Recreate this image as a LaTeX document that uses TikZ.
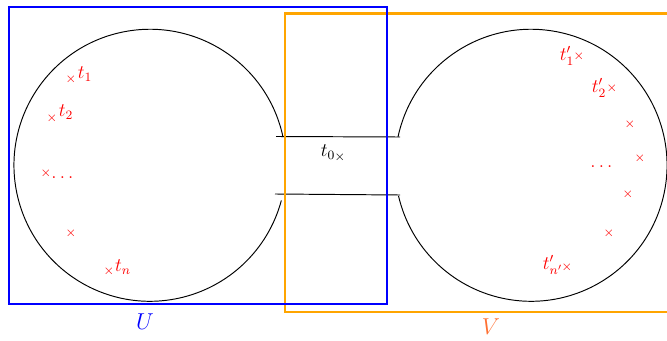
\documentclass[tikz,border=0pt]{standalone}
\usepackage{amsmath,amssymb}
\usepackage{xcolor}
\usepackage{tikz}
\usetikzlibrary{positioning}
\definecolor{boxV}{RGB}{255,165,0}
\definecolor{labV}{RGB}{255,112,50}

\begin{document}
\begin{tikzpicture}[x=0.022cm,y=0.022cm,
  pt/.style={font=\footnotesize,inner sep=0pt},
  lab/.style={font=\large,inner sep=0pt}]
  \clip (0,0) rectangle (667,340);
  % ends of the two open discs and of the tube
  \coordinate (lt) at (283,203);
  \coordinate (rt) at (398,203);
  \coordinate (a1) at (276,203.5);
  \coordinate (a2) at (400,203);
  \coordinate (b1) at (275,146);
  \coordinate (b2) at (400,145);
  \draw[semithick] (lt) arc[start angle=12,end angle=345,radius=136];
  \draw[semithick] (rt) arc[start angle=168,end angle=-167,radius=136];
  \draw[semithick] (a1) -- (a2);
  \draw[semithick] (b1) -- (b2);
  % the two open sets
  \draw[boxV,line width=1.6pt] (285,326.5) rectangle (700,28);
  \draw[blue,line width=1.6pt] (9,333) rectangle (387,36);
  \node[blue,font=\Large] (U) at (145,18) {$U$};
  \node[labV,font=\Large] (V) at (491,13) {$V$};
  % points
  \foreach \x/\y [count=\i] in {71/261,52/222,46/167,71/107,109/69}
     \node[pt,red] (l\i) at (\x,\y) {$\times$};
  \foreach \x/\y [count=\i] in {579/284,612/252,630/216,640/182,628/146,609/107,567/73}
     \node[pt,red] (r\i) at (\x,\y) {$\times$};
  \foreach \x/\y/\lab [count=\i] in {85/266/t_1,66/228/t_2,64/162/\dots,123/73/t_n}
     \node[lab,red] (ll\i) at (\x,\y) {$\lab$};
  \foreach \x/\y/\lab [count=\i] in {567/284/t'_1,599/252/t'_2,603/173/\dots,553/75/{t'_{n'}}}
     \node[lab,red] (rl\i) at (\x,\y) {$\lab$};
  \node[pt] (z) at (340,183) {$\times$};
  \node[lab] (zl) at (328,188) {$t_0$};
\end{tikzpicture}
\end{document}
